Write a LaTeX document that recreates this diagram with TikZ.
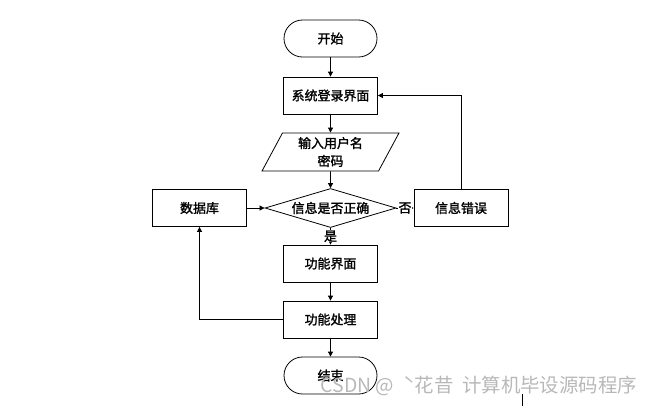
\documentclass[tikz,border=0pt]{standalone}
\usepackage{fontspec}
\newfontfamily\cjk{Noto Sans CJK SC}[AutoFakeBold=1.5]
\usetikzlibrary{arrows.meta,shapes.geometric}

\begin{document}
\begin{tikzpicture}[x=1bp,y=-1bp,>={Triangle[length=5bp,width=5bp]},line width=.8bp,
  every node/.style={font=\cjk\bfseries\fontsize{13}{18}\selectfont},
  term/.style={draw,rounded corners=18.5bp,minimum width=93bp,minimum height=37bp},
  proc/.style={draw,minimum width=94bp,minimum height=37bp},
  io/.style={draw,trapezium,trapezium left angle=66,trapezium right angle=114,trapezium stretches=true,minimum width=138bp,minimum height=38bp,align=center,inner sep=1bp},
  test/.style={draw,diamond,aspect=3.36,minimum width=131bp,minimum height=39bp,inner sep=0pt},
  tag/.style={fill=white,inner sep=.5bp}]
\useasboundingbox (0,0) rectangle (658,406);
\node[term] (start) at (330.5,38.5) {开始};
\node[proc] (login) at (330.5,95.5) {系统登录界面};
\node[io] (input) at (330.5,152) {输入用户名\\密码};
\node[test] (check) at (330.5,208) {信息是否正确};
\node[proc] (db) at (199.5,208) {数据库};
\node[proc] (err) at (461,208) {信息错误};
\node[proc] (func) at (330.5,263.5) {功能界面};
\node[proc] (work) at (330.5,319.5) {功能处理};
\node[term] (stop) at (330.5,375.5) {结束};
\draw[->] (start) -- (login);
\draw[->] (login) -- (input);
\draw[->] (input) -- (check);
\draw[->] (db) -- (check);
\draw[->] (check) -- node[tag] (no) {否} (err);
\draw[->] (check) -- node[tag] (yes) {是} (func);
\draw[->] (err.north) |- (login.east);
\draw[->] (func) -- (work);
\draw[->] (work) -- (stop);
\draw[->] (work.west) -| (db.south);
\node[anchor=west,text=black!28,font=\cjk\fontsize{19.5}{22}\selectfont] (mark) at (317,386) {CSDN @ \ ˋ花昔\ \ 计算机毕设源码程序};
\draw (522,394) -- (522,406);
\end{tikzpicture}
\end{document}
